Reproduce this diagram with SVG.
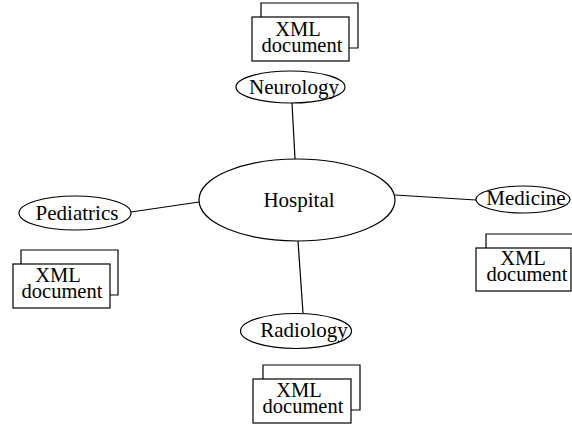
<svg xmlns="http://www.w3.org/2000/svg" width="572" height="425" viewBox="0 0 572 425">
<style>
.shape{fill:#fff;stroke:#000;stroke-width:1.2}
.back{fill:none;stroke:#000;stroke-width:1.2}
.conn{stroke:#000;stroke-width:1.2;fill:none}
text{font-size:21px;fill:#000;text-anchor:middle}
.doc text{font-size:20.5px}
</style>
<rect width="572" height="425" fill="#fff"/>
<g id="connectors">
<line class="conn" x1="292" y1="103" x2="295" y2="159"/>
<line class="conn" x1="131" y1="212" x2="199" y2="202"/>
<line class="conn" x1="395" y1="195" x2="476" y2="200"/>
<line class="conn" x1="298" y1="241" x2="303" y2="313"/>
</g>
<g font-family="'Liberation Serif', Tinos, 'Times New Roman', 'DejaVu Serif', serif">
<g id="hospital">
<ellipse class="shape" cx="297" cy="200" rx="98" ry="41"/>
<text x="299" y="207">Hospital</text>
</g>
<g id="neurology">
<ellipse class="shape" cx="290.5" cy="87" rx="54.5" ry="16"/>
<text x="294" y="94">Neurology</text>
</g>
<g id="pediatrics">
<ellipse class="shape" cx="75" cy="213" rx="56" ry="17"/>
<text x="77" y="220">Pediatrics</text>
</g>
<g id="medicine">
<ellipse class="shape" cx="523" cy="199.5" rx="47" ry="13.5"/>
<text x="526" y="205">Medicine</text>
</g>
<g id="radiology">
<ellipse class="shape" cx="296" cy="331" rx="55.5" ry="17.5"/>
<text x="304" y="337">Radiology</text>
</g>
<g id="doc-neurology" class="doc">
<path class="back" d="M261,17 V3 H358 V48 H349"/>
<rect class="shape" x="252" y="17" width="97" height="44"/>
<text x="298" y="36">XML</text>
<text x="302" y="52">document</text>
</g>
<g id="doc-pediatrics" class="doc">
<path class="back" d="M21,264 V250 H118 V295 H110"/>
<rect class="shape" x="13" y="264" width="97" height="44"/>
<text x="58" y="282">XML</text>
<text x="62" y="298">document</text>
</g>
<g id="doc-medicine" class="doc">
<path class="back" d="M486,248 V234 H583"/>
<rect class="shape" x="476" y="248" width="95" height="43"/>
<text x="523" y="265">XML</text>
<text x="527" y="281">document</text>
</g>
<g id="doc-radiology" class="doc">
<path class="back" d="M263,379 V365 H360 V410 H351"/>
<rect class="shape" x="253" y="379" width="98" height="44"/>
<text x="299" y="397">XML</text>
<text x="303" y="413">document</text>
</g>
</g>
</svg>
